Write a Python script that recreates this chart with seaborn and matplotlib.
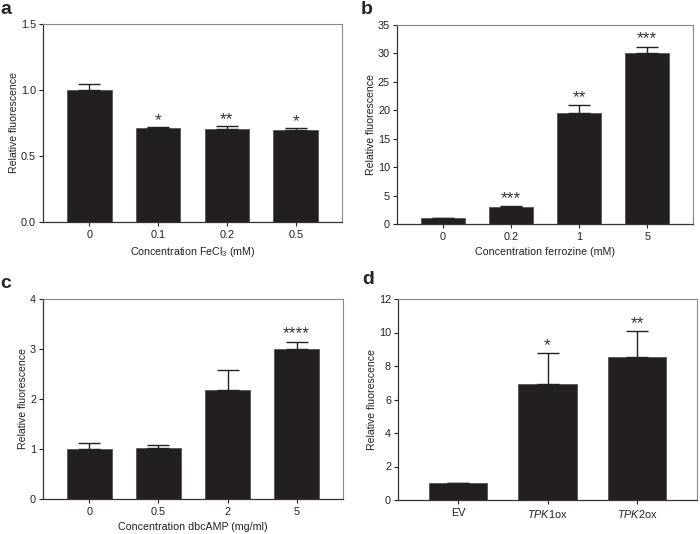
import matplotlib
matplotlib.use("Agg")
import matplotlib.pyplot as plt
import seaborn as sns
import pandas as pd

# ---- data ----
a_cats = ["0", "0.1", "0.2", "0.5"]
a_vals = [1.0, 0.71, 0.705, 0.70]
a_err = [0.045, 0.01, 0.025, 0.015]
a_sig = ["", "*", "**", "*"]

b_cats = ["0", "0.2", "1", "5"]
b_vals = [1.0, 3.0, 19.6, 30.1]
b_err = [0.12, 0.15, 1.3, 1.1]
b_sig = ["", "***", "**", "***"]

c_cats = ["0", "0.5", "2", "5"]
c_vals = [1.0, 1.02, 2.18, 3.0]
c_err = [0.12, 0.07, 0.40, 0.15]
c_sig = ["", "", "", "****"]

d_cats = ["EV", r"$\mathit{TPK1}$ox", r"$\mathit{TPK2}$ox"]
d_vals = [1.0, 6.9, 8.55]
d_err = [0.03, 1.85, 1.55]
d_sig = ["", "*", "**"]

sns.set_theme(style="white")
plt.rcParams["font.family"] = ["Liberation Sans", "DejaVu Sans"]
plt.rcParams["mathtext.fontset"] = "custom"
plt.rcParams["mathtext.rm"] = "Liberation Sans"
plt.rcParams["mathtext.it"] = "Liberation Sans:italic"
plt.rcParams["mathtext.default"] = "regular"

fig = plt.figure(figsize=(7.0, 5.34), dpi=100)

BAR = "#231f20"
TXT = "#222222"

def panel(rect, cats, vals, errs, sigs, ylim, yticks, yfmt, xlabel, letter, letter_xy,
          star_off, xpad=2.5):
    ax = fig.add_axes(rect)
    df = pd.DataFrame({"cat": cats, "val": vals})
    sns.barplot(data=df, x="cat", y="val", color=BAR, width=0.65, errorbar=None,
                saturation=1, edgecolor="#555555", linewidth=0.6, ax=ax)
    xs = list(range(len(cats)))
    ax.errorbar(xs, vals, yerr=[[0] * len(vals), errs], fmt="none", ecolor=TXT,
                elinewidth=1.0, capsize=8, capthick=1.0, zorder=3)
    for x, v, e, s in zip(xs, vals, errs, sigs):
        if s:
            ax.text(x, v + e + star_off, s, ha="center", va="bottom", fontsize=12.5,
                    color="#333333")
    ax.set_xlim(-0.67, len(cats) - 1 + 0.67)
    ax.set_ylim(*ylim)
    ax.set_yticks(yticks)
    ax.set_yticklabels([yfmt.format(t) for t in yticks])
    ax.set_xlabel(xlabel, fontsize=7.7, labelpad=4, color=TXT)
    ax.set_ylabel("Relative fluorescence", fontsize=7.6, labelpad=1.5, color=TXT)
    ax.tick_params(axis="both", labelsize=7.8, colors=TXT, length=3, width=0.8,
                   direction="out", bottom=True, left=True, pad=2)
    ax.tick_params(axis="x", pad=xpad)
    for side in ["left", "bottom"]:
        ax.spines[side].set_color("#333333")
        ax.spines[side].set_linewidth(0.9)
    for side in ["top", "right"]:
        ax.spines[side].set_color("#888888")
        ax.spines[side].set_linewidth(0.8)
    fig.text(letter_xy[0] / 700, 1 - letter_xy[1] / 534, letter, fontsize=14,
             fontweight="bold", ha="left", va="center")
    return ax

panel([43 / 700, (534 - 222) / 534, 299 / 700, 198 / 534], a_cats, a_vals, a_err, a_sig,
      (0, 1.5), [0.0, 0.5, 1.0, 1.5], "{:.1f}", "Concentration FeCl$_3$ (mM)", "a", (0, 9), -0.01)
panel([397 / 700, (534 - 224) / 534, 296 / 700, 199 / 534], b_cats, b_vals, b_err, b_sig,
      (0, 35), [0, 5, 10, 15, 20, 25, 30, 35], "{:d}", "Concentration ferrozine (mM)", "b", (361, 9), 0.0)
panel([43 / 700, (534 - 499) / 534, 300 / 700, 200 / 534], c_cats, c_vals, c_err, c_sig,
      (0, 4), [0, 1, 2, 3, 4], "{:d}", "Concentration dbcAMP (mg/ml)", "c", (0, 283), 0.0)
panel([398 / 700, (534 - 500) / 534, 299 / 700, 201 / 534], d_cats, d_vals, d_err, d_sig,
      (0, 12), [0, 2, 4, 6, 8, 10, 12], "{:d}", "", "d", (362, 280), 0.0)

fig.savefig("out.png", dpi=100)
